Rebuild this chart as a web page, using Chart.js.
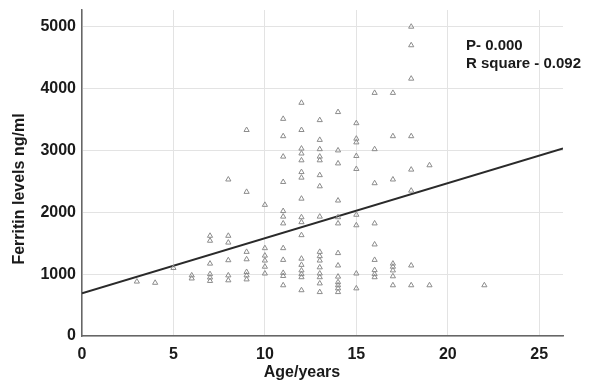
<!DOCTYPE html>
<html>
<head>
<meta charset="utf-8">
<script src="https://cdn.jsdelivr.net/npm/chart.js@4.4.1/dist/chart.umd.min.js"></script>
<style>
    html, body { margin:0; padding:0; background:#ffffff; }
    #grafico { display:block; }
</style>
</head>
<body>
<canvas id="grafico" width="589" height="385"></canvas>
<script>
// ==========================================================
// Dados
// ==========================================================

// Idade (anos) de cada ponto, lado a lado com a ferritina
const idades = [
    3, 4, 5,
    6, 6,
    7, 7, 7, 7, 7, 7,
    8, 8, 8, 8, 8, 8,
    9, 9, 9, 9, 9, 9, 9,
    10, 10, 10, 10, 10, 10,
    11, 11, 11, 11, 11, 11, 11, 11, 11, 11, 11, 11,
    12, 12, 12, 12, 12, 12, 12, 12, 12, 12, 12, 12, 12, 12, 12, 12, 12,
    13, 13, 13, 13, 13, 13, 13, 13, 13, 13, 13, 13, 13, 13, 13, 13,
    14, 14, 14, 14, 14, 14, 14, 14, 14, 14, 14, 14, 14,
    15, 15, 15, 15, 15, 15, 15, 15, 15,
    16, 16, 16, 16, 16, 16, 16, 16, 16,
    17, 17, 17, 17, 17, 17, 17, 17,
    18, 18, 18, 18, 18, 18, 18, 18,
    19, 19,
    22
];

// Ferritina (ng/ml)
const ferritina = [
    880, 860, 1100,
    980, 930,
    1620, 1540, 1170, 1000, 945, 890,
    2530, 1620, 1510, 1225, 980, 900,
    3330, 2330, 1360, 1240, 1035, 980, 915,
    2120, 1420, 1300, 1220, 1120, 1010,
    3510, 3230, 2900, 2490, 2020, 1930, 1820, 1420, 1230, 1020, 970, 820,
    3770, 3330, 3030, 2950, 2840, 2650, 2560, 2220, 1920, 1840, 1630, 1250, 1150, 1060, 1000, 950, 740,
    3490, 3170, 3020, 2900, 2840, 2600, 2420, 1930, 1360, 1290, 1220, 1110, 1010, 950, 850, 710,
    3620, 3000, 2790, 2190, 1920, 1820, 1340, 1140, 960, 870, 820, 770, 710,
    3440, 3190, 3130, 2910, 2700, 1960, 1790, 1010, 770,
    3930, 3020, 2470, 1820, 1480, 1230, 1065, 1000, 950,
    3930, 3230, 2530, 1170, 1120, 1060, 965, 820,
    5000, 4700, 4160, 3230, 2690, 2350, 1140, 820,
    2760, 820,
    820
];

// Reta de regressão (extremos)
const retaX = [0, 26.3];
const retaY = [690, 3030];

// Ticks dos eixos
const ticksX = [0, 5, 10, 15, 20, 25];
const ticksY = [0, 1000, 2000, 3000, 4000, 5000];

// Textos
const tituloX = "Age/years";
const tituloY = "Ferritin levels ng/ml";
const anotacao = ["P- 0.000", "R square - 0.092"];

// ==========================================================
// PLUGIN: títulos dos eixos e anotação
// ==========================================================

const textosPlugin = {
    id: "textos",
    afterDraw(chart){
        const {ctx} = chart;
        ctx.save();
        ctx.fillStyle = "#1a1a1a";
        ctx.font = "bold 16px 'Liberation Sans', Arial";

        // título X
        ctx.textAlign = "center";
        ctx.textBaseline = "middle";
        ctx.fillText(tituloX, 302, 373);

        // título Y
        ctx.save();
        ctx.translate(20, 189);
        ctx.rotate(-Math.PI / 2);
        ctx.fillText(tituloY, 0, 0);
        ctx.restore();

        // anotação
        ctx.font = "bold 15px 'Liberation Sans', Arial";
        ctx.textAlign = "left";
        ctx.textBaseline = "alphabetic";
        ctx.fillText(anotacao[0], 466, 50);
        ctx.fillText(anotacao[1], 466, 68);
        ctx.restore();
    }
};

// ==========================================================
// Gráfico
// ==========================================================

const pontos = idades.map((idade, i) => ({x: idade, y: ferritina[i]}));
const reta = retaX.map((x, i) => ({x: x, y: retaY[i]}));

const fonteTicks = {family: "'Liberation Sans', Arial", size: 16, weight: "bold"};

new Chart(document.getElementById("grafico"), {
    type: "scatter",
    data: {
        datasets: [
            {
                data: pontos,
                pointStyle: "triangle",
                pointRadius: 3,
                pointHoverRadius: 3,
                borderColor: "#8c8c8c",
                backgroundColor: "rgba(0,0,0,0)",
                pointBorderWidth: 1
            },
            {
                data: reta,
                showLine: true,
                borderColor: "#2a2a2a",
                borderWidth: 2,
                pointRadius: 0,
                pointHoverRadius: 0
            }
        ]
    },
    options: {
        responsive: false,
        devicePixelRatio: 1,
        animation: false,
        layout: {
            padding: {top: 10, right: 26, left: 0, bottom: 0}
        },
        plugins: {
            legend: {display: false},
            tooltip: {enabled: false}
        },
        scales: {
            x: {
                type: "linear",
                min: 0,
                max: 26.3,
                afterBuildTicks: s => { s.ticks = ticksX.map(v => ({value: v})); },
                afterFit: s => { s.height = 49; s.paddingLeft = 0; s.paddingRight = 0; },
                grid: {color: "#e3e3e3", lineWidth: 1, drawTicks: false},
                border: {color: "#666666", width: 1.5},
                ticks: {
                    padding: 9,
                    color: "#1a1a1a",
                    font: fonteTicks,
                    maxRotation: 0,
                    callback: v => String(v)
                }
            },
            y: {
                type: "linear",
                min: 0,
                max: 5270,
                afterBuildTicks: s => { s.ticks = ticksY.map(v => ({value: v})); },
                afterFit: s => { s.width = 82; s.paddingTop = 0; s.paddingBottom = 0; },
                grid: {color: "#e3e3e3", lineWidth: 1, drawTicks: false},
                border: {color: "#666666", width: 1.5},
                ticks: {
                    padding: 6,
                    color: "#1a1a1a",
                    font: fonteTicks,
                    callback: v => String(v)
                }
            }
        }
    },
    plugins: [textosPlugin]
});
</script>
</body>
</html>
